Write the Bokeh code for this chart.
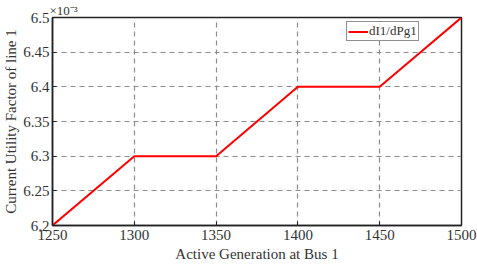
from bokeh.plotting import figure
from bokeh.models import Range1d, FixedTicker, Legend, LegendItem
from bokeh.embed import file_html
from bokeh.resources import INLINE

x_vals = [1250, 1300, 1350, 1400, 1450, 1500]
y_vals = [6.2, 6.3, 6.3, 6.4, 6.4, 6.5]  # x 10^-3
x_ticks = [1250, 1300, 1350, 1400, 1450, 1500]
y_ticks = [6.2, 6.25, 6.3, 6.35, 6.4, 6.45, 6.5]
series_name = "dI1/dPg1"
multiplier = "×10⁻³"

FONT = "Liberation Serif"
TXT = "#333333"

p = figure(width=477, height=264, output_backend="svg", toolbar_location=None,
           x_range=Range1d(1250, 1500), y_range=Range1d(6.2, 6.5),
           title=multiplier,
           min_border_left=48, min_border_right=16, min_border_top=0, min_border_bottom=39)
p.background_fill_color = "white"
p.border_fill_color = "white"
p.outline_line_color = "#222222"
p.outline_line_width = 1.5

p.title.text_font = FONT
p.title.text_font_size = "13px"
p.title.text_font_style = "normal"
p.title.text_color = TXT
p.title.align = "left"
p.title.offset = -3
p.title.standoff = 0

r = p.line(x_vals, y_vals, line_color="#ff0000", line_width=2)

for ax in (p.xaxis[0], p.yaxis[0]):
    ax.axis_line_color = "#222222"
    ax.axis_line_width = 1.5
    ax.major_tick_in = 4
    ax.major_tick_out = 0
    ax.minor_tick_line_color = None
    ax.major_tick_line_color = "#222222"
    ax.major_label_text_font = FONT
    ax.major_label_text_font_size = "15px"
    ax.major_label_text_color = TXT
    ax.axis_label_text_font = FONT
    ax.axis_label_text_font_size = "15px"
    ax.axis_label_text_font_style = "normal"
    ax.axis_label_text_color = TXT

p.xaxis.ticker = FixedTicker(ticks=x_ticks)
p.yaxis.ticker = FixedTicker(ticks=y_ticks)
p.xaxis.major_label_overrides = {t: str(t) for t in x_ticks}
p.yaxis.major_label_overrides = {t: ("%g" % t) for t in y_ticks}
p.xaxis.axis_label = "Active Generation at Bus 1"
p.yaxis.axis_label = "Current Utility Factor of line 1"
p.xaxis.major_label_standoff = 4
p.yaxis.major_label_standoff = 3
p.xaxis.axis_label_standoff = 3
p.yaxis.axis_label_standoff = 1

p.grid.grid_line_color = "#8c8c8c"
p.grid.grid_line_dash = "5 4"
p.grid.grid_line_width = 1.2

legend = Legend(items=[LegendItem(label=series_name, renderers=[r])],
                location=(294, 184))
legend.label_text_font = FONT
legend.label_text_font_size = "13px"
legend.label_text_color = TXT
legend.border_line_color = "#222222"
legend.border_line_width = 1
legend.padding = 1
legend.spacing = 0
legend.margin = 0
legend.glyph_width = 20
legend.glyph_height = 15
legend.label_standoff = 1
legend.label_height = 15
p.add_layout(legend)

open("out.html", "w").write(file_html(p, INLINE))
